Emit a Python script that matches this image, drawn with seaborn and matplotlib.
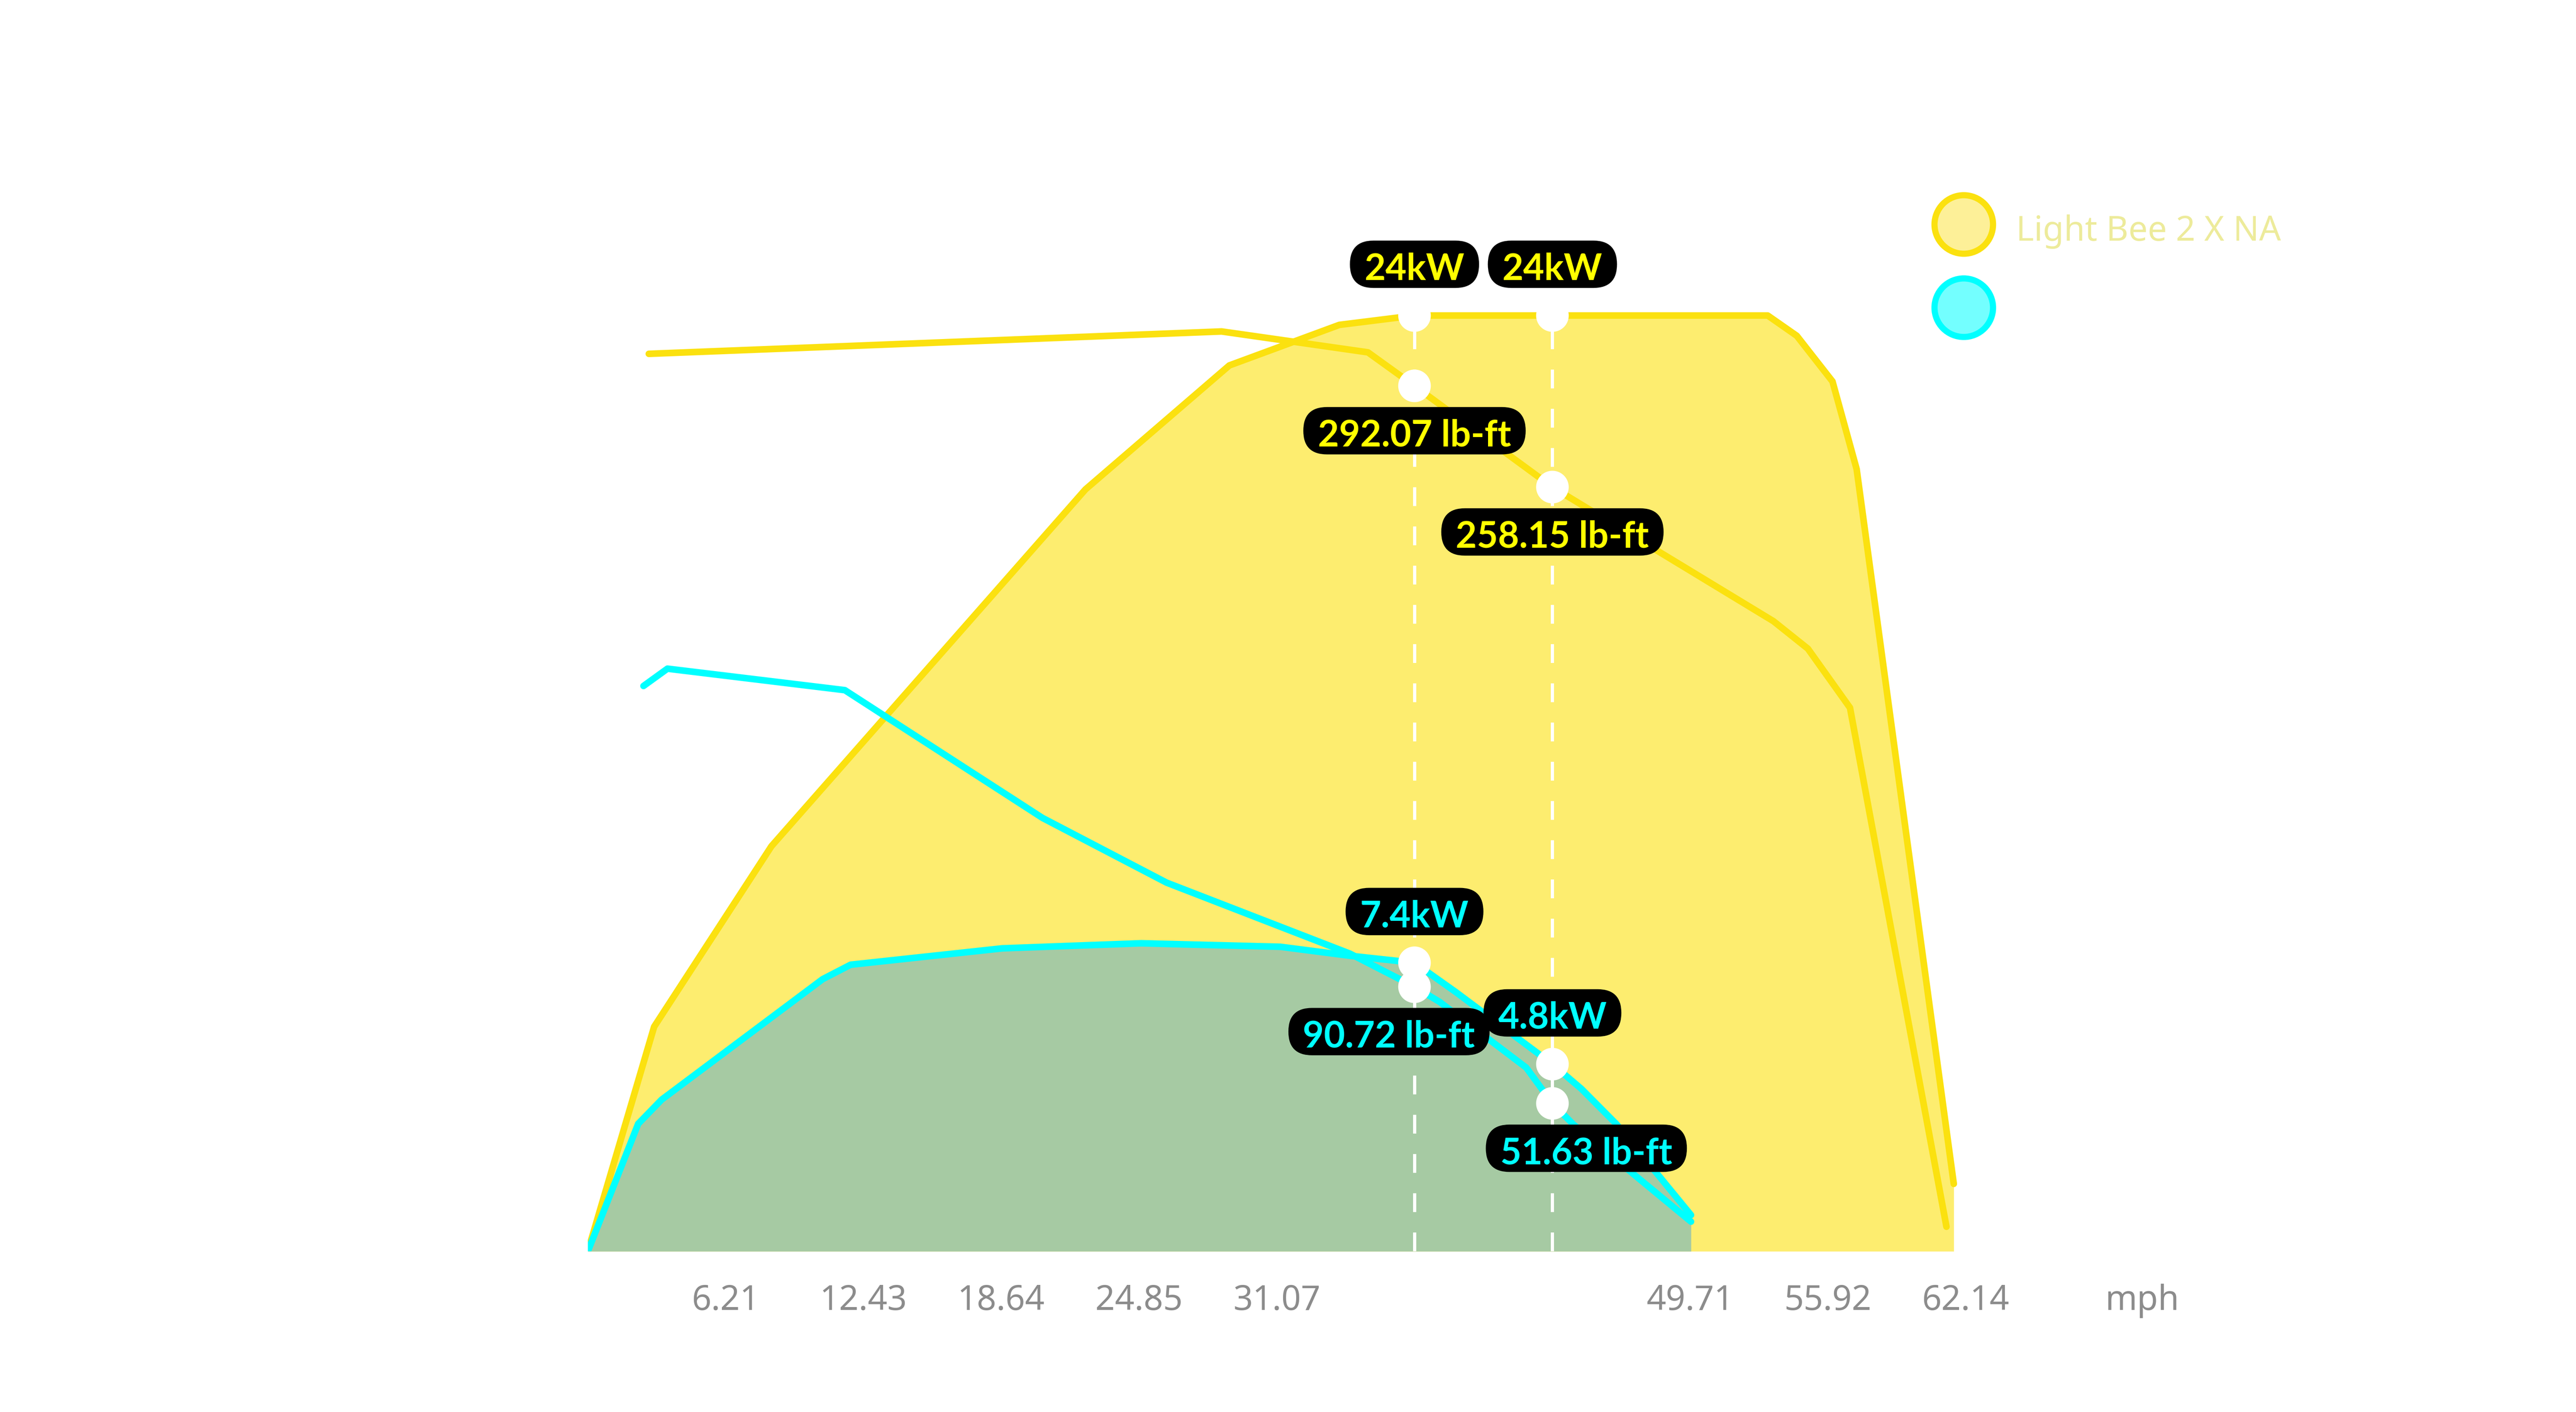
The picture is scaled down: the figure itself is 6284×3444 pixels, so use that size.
import matplotlib
matplotlib.use("Agg")
import matplotlib.pyplot as plt
import seaborn as sns
from matplotlib.lines import Line2D
from matplotlib.patches import BoxStyle

# ---- data (speed in mph) ----
bee_power_mph = [0.0, 2.99, 8.28, 22.44, 28.93, 33.89, 37.28, 53.21, 54.52, 56.13, 57.22, 61.60]
bee_power_kw = [0.0, 5.76, 10.39, 19.54, 22.72, 23.76, 24.0, 24.0, 23.48, 22.31, 20.06, 1.73]

bee_torque_mph = [2.75, 28.58, 35.18, 37.28, 43.50, 53.47, 55.02, 56.92, 61.27]
bee_torque_lbft = [302.8, 310.3, 303.3, 292.07, 258.15, 213.2, 204.0, 184.2, 10.3]

cyan_power_mph = [0.0, 2.27, 3.33, 10.59, 11.85, 18.69, 24.96, 31.23, 34.37, 37.28,
                  39.14, 43.50, 44.80, 46.39, 49.75]
cyan_power_kw = [0.0, 3.27, 3.89, 6.98, 7.35, 7.77, 7.90, 7.81, 7.58, 7.4,
                 6.65, 4.8, 4.17, 3.26, 0.93]

cyan_torque_mph = [2.51, 3.59, 11.59, 20.50, 26.10, 34.37, 37.28, 38.42, 42.32, 43.50, 44.44, 49.75]
cyan_torque_lbft = [191.5, 197.3, 190.1, 147.3, 125.6, 101.8, 90.72, 85.6, 63.6, 51.63, 44.6, 12.0]

# marked speeds (60 and 70 km/h) and the values shown there
mark_mph = [37.28, 43.50]
bee_power_marks = [24, 24]
bee_torque_marks = [292.07, 258.15]
cyan_power_marks = [7.4, 4.8]
cyan_torque_marks = [90.72, 51.63]

tick_mph = [6.21, 12.43, 18.64, 24.85, 31.07, 37.28, 43.50, 49.71, 55.92, 62.14]
tick_labels = ["6.21", "12.43", "18.64", "24.85", "31.07", "", "", "49.71", "55.92", "62.14"]
legend_labels = ["Light Bee 2 X NA", ""]

# ---- colours ----
YELLOW = "#FBE10F"
YELLOW_FILL = "#FDED6F"
CYAN = "#00FFFF"
GREEN_FILL = "#A6CAA3"
TICK_GREY = "#8C8C8C"

sns.set_theme(style="white")
plt.rcParams["font.family"] = ["Noto Sans", "DejaVu Sans"]


def pill(x0, y0, width, height, mutation_size):
    # pill shaped box, wider padding left/right than top/bottom
    padx = 0.40 * mutation_size
    h = 1.30 * mutation_size
    cy = y0 + 0.60 * mutation_size
    return BoxStyle.Round(pad=0, rounding_size=h / 2 / mutation_size)(
        x0 - padx, cy - h / 2, width + 2 * padx, h, mutation_size)


fig = plt.figure(figsize=(15.71, 8.61), dpi=400)
ax = fig.add_axes([0.2282, 0.1138, 0.5349, 0.7732])
ax2 = ax.twinx()

LW = 2.9

# power (kW) on ax
ax.fill_between(bee_power_mph, 0, bee_power_kw, color=YELLOW_FILL, lw=0, zorder=1)
ax.fill_between(cyan_power_mph, 0, cyan_power_kw, color=GREEN_FILL, lw=0, zorder=1.5)
sns.lineplot(x=bee_power_mph, y=bee_power_kw, sort=False, estimator=None,
             color=YELLOW, linewidth=LW, ax=ax, zorder=2)
sns.lineplot(x=cyan_power_mph, y=cyan_power_kw, sort=False, estimator=None,
             color=CYAN, linewidth=LW, ax=ax, zorder=2.1)
ax.vlines(mark_mph, 0, bee_power_marks, colors="white", linewidth=1.4,
          linestyles=(0, (5.9, 6.4)), zorder=2.5)

# torque (lb-ft) on ax2
sns.lineplot(x=bee_torque_mph, y=bee_torque_lbft, sort=False, estimator=None,
             color=YELLOW, linewidth=LW, ax=ax2, zorder=2)
sns.lineplot(x=cyan_torque_mph, y=cyan_torque_lbft, sort=False, estimator=None,
             color=CYAN, linewidth=LW, ax=ax2, zorder=2.1)

# white markers
for a, vals in [(ax, bee_power_marks), (ax, cyan_power_marks),
                (ax2, bee_torque_marks), (ax2, cyan_torque_marks)]:
    sns.scatterplot(x=mark_mph, y=vals, s=205, color="white", edgecolor="none",
                    linewidth=0, ax=a, zorder=4)

# value labels
box = dict(boxstyle=pill, fc="black", ec="none")


def tag(a, x, v, text, color, dx, dy):
    a.annotate(text, xy=(x, v), xytext=(dx, dy), textcoords="offset points",
               ha="center", va="baseline", fontsize=16, fontweight="bold",
               family=["Lato", "Noto Sans", "DejaVu Sans"],
               color=color, bbox=box, zorder=6, annotation_clip=False)


for x, v in zip(mark_mph, bee_power_marks):
    tag(ax, x, v, f"{v:g}kW", "#FFFF00", 0, 15.6)
for x, v in zip(mark_mph, cyan_power_marks):
    tag(ax, x, v, f"{v:g}kW", CYAN, 0, 15.6)
for x, v in zip(mark_mph, bee_torque_marks):
    tag(ax2, x, v, f"{v:.2f} lb-ft", "#FFFF00", 0, -26.6)
for x, v, dx in zip(mark_mph, cyan_torque_marks, [-11.2, 14.9]):
    tag(ax2, x, v, f"{v:.2f} lb-ft", CYAN, dx, -26.6)

# axes styling
ax.set_xlim(0, 62.14)
ax.set_ylim(0, 28)
ax2.set_ylim(2.06, 367.9)
ax.set_xticks(tick_mph)
ax.set_xticklabels(tick_labels)
ax.tick_params(axis="x", length=0, pad=14.2, labelsize=15, labelcolor=TICK_GREY)
ax.set_yticks([])
ax2.set_yticks([])
ax.set_xlabel("")
ax.set_ylabel("")
ax2.set_ylabel("")
for a in (ax, ax2):
    for s in a.spines.values():
        s.set_visible(False)
ax.annotate("mph", xy=(70.1, 0), xycoords=("data", "axes fraction"),
            xytext=(0, -14.2), textcoords="offset points", ha="center", va="top",
            fontsize=15, color=TICK_GREY, annotation_clip=False)

# legend
handles = [
    Line2D([], [], ls="none", marker="o", ms=25.7, mfc="#FDF098", mec=YELLOW, mew=2.7),
    Line2D([], [], ls="none", marker="o", ms=25.7, mfc="#73FFFF", mec=CYAN, mew=2.7),
]
leg = fig.legend(handles, legend_labels, loc="upper left", bbox_to_anchor=(0.7495, 0.853),
                 frameon=False, fontsize=15, handlelength=1.92, handleheight=1.6,
                 handletextpad=0.58, labelspacing=1.15, borderpad=0, borderaxespad=0)
for t in leg.get_texts():
    t.set_color("#EDEB9B")

fig.savefig("out.png", dpi=400)
